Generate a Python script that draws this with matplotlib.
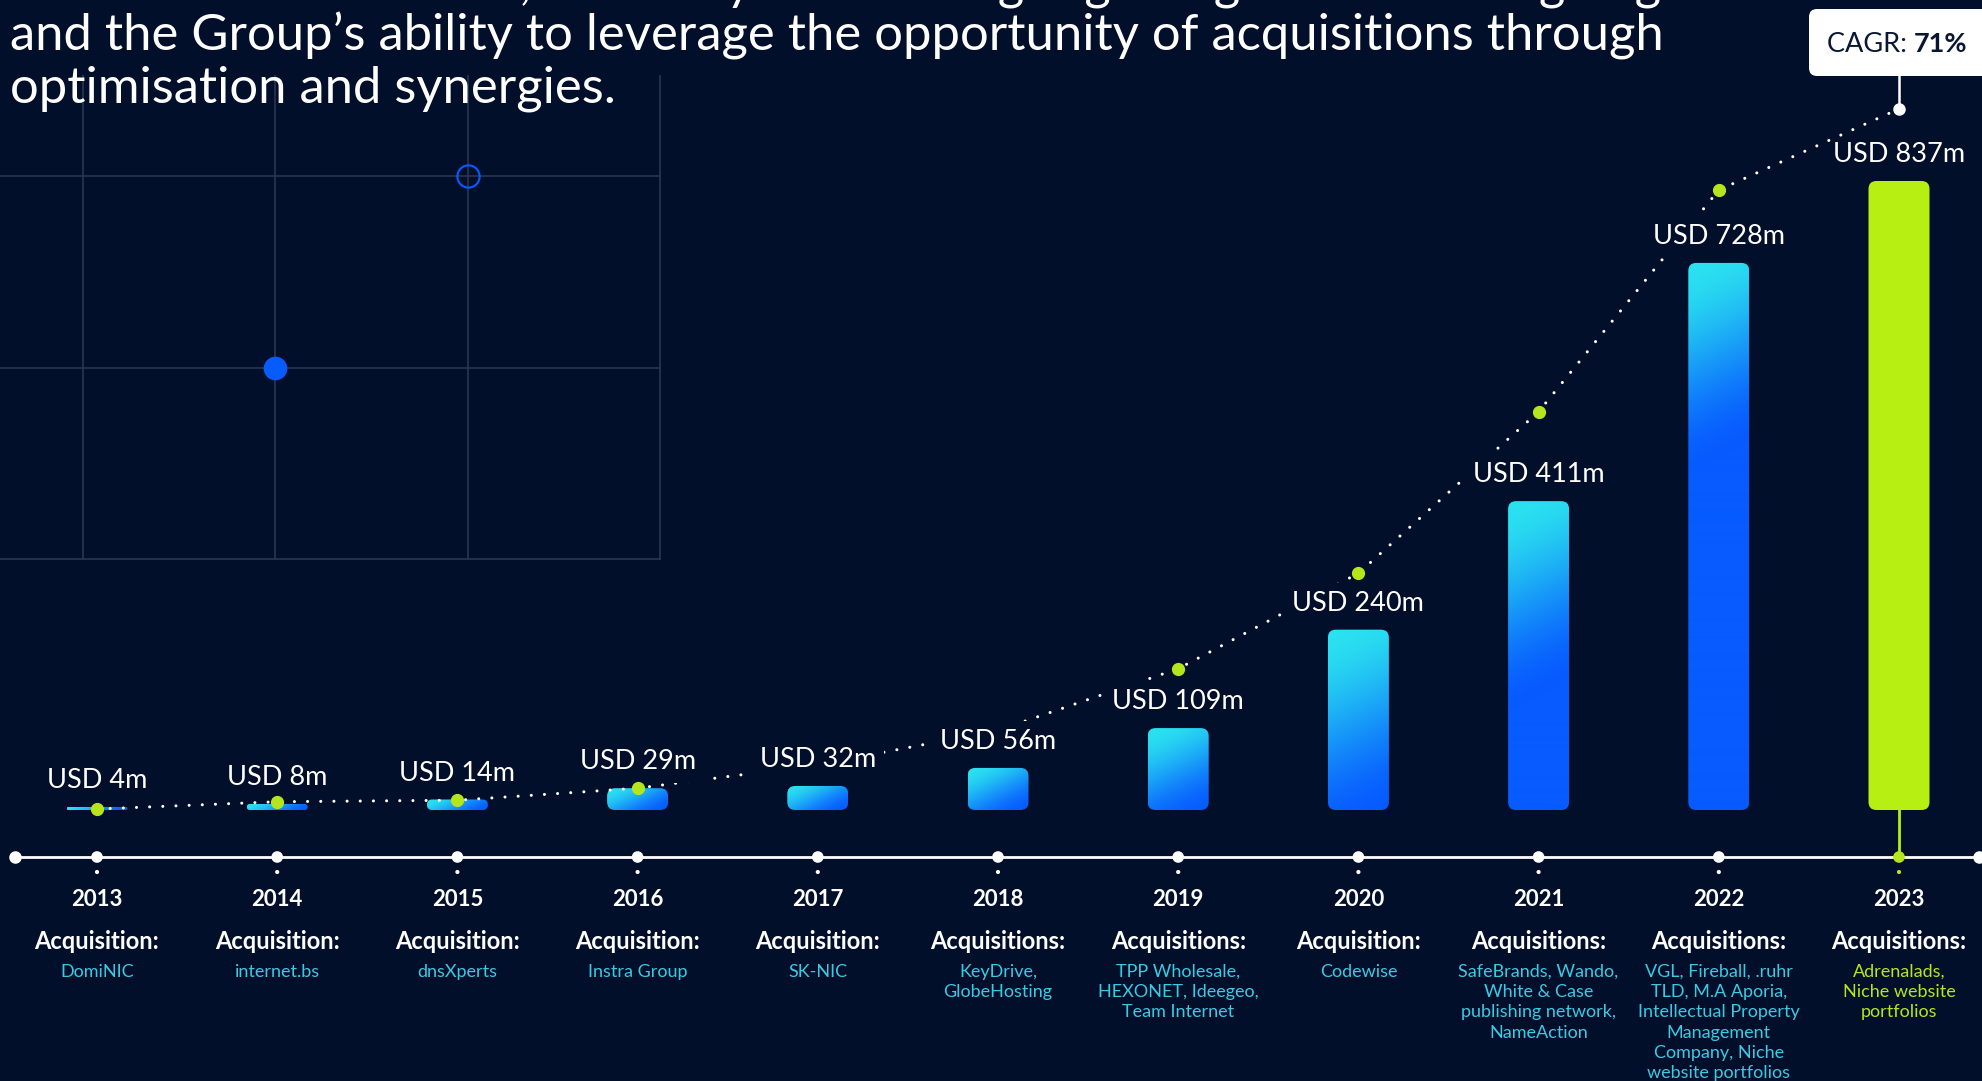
import numpy as np
import matplotlib.pyplot as plt
from matplotlib.patches import FancyBboxPatch
from matplotlib.colors import to_rgb

plt.rcParams['font.family'] = ['Lato', 'DejaVu Sans']

# ---- data ----
years = [2013, 2014, 2015, 2016, 2017, 2018, 2019, 2020, 2021, 2022, 2023]
revenue = [4, 8, 14, 29, 32, 56, 109, 240, 411, 728, 837]
value_labels = ['USD 4m', 'USD 8m', 'USD 14m', 'USD 29m', 'USD 32m', 'USD 56m',
                'USD 109m', 'USD 240m', 'USD 411m', 'USD 728m', 'USD 837m']
# dotted CAGR curve (USD m scale)
trend = [1.3, 11, 13, 29, 60, 106, 188, 315, 530, 825, 933]
trend_dot_years = [2013, 2014, 2015, 2016, 2019, 2020, 2021, 2022]
acq_headers = ['Acquisition:', 'Acquisition:', 'Acquisition:', 'Acquisition:',
               'Acquisition:', 'Acquisitions:', 'Acquisitions:', 'Acquisition:',
               'Acquisitions:', 'Acquisitions:', 'Acquisitions:']
acq_names = [
    'DomiNIC',
    'internet.bs',
    'dnsXperts',
    'Instra Group',
    'SK-NIC',
    'KeyDrive,\nGlobeHosting',
    'TPP Wholesale,\nHEXONET, Ideegeo,\nTeam Internet',
    'Codewise',
    'SafeBrands, Wando,\nWhite & Case\npublishing network,\nNameAction',
    'VGL, Fireball, .ruhr\nTLD, M.A Aporia,\nIntellectual Property\nManagement\nCompany, Niche\nwebsite portfolios',
    'Adrenalads,\nNiche website\nportfolios',
]
cagr_text = 'CAGR:'
cagr_value = '71%'
title_lines = [
    'Revenue has increased, driven by both strong organic growth and ongoing',
    'and the Group\u2019s ability to leverage the opportunity of acquisitions through',
    'optimisation and synergies.',
]
# faint chart left over in the top-left corner
ghost_x = [1, 2]
ghost_y = [1, 2]

# ---- style ----
BG = '#020f2a'
CYAN = np.array(to_rgb('#2be2f0'))
BLUE = np.array(to_rgb('#075bff'))
LIME = '#b8ef12'
DOT_GREEN = '#b5e61d'
NAME_CYAN = '#3cc9e4'
NAVY = '#0b1634'
GRID = '#2a3650'

W, H = 1982, 1081
X0, DX = 97, 180.2      # pixel column of first year, pixels per year
BASE, DY = 810, 0.7515  # pixel row of zero, pixels per USD m
ASP = DX / DY


def px(p):
    return years[0] + (p - X0) / DX


def py(p):
    return (BASE - p) / DY


fig = plt.figure(figsize=(W / 100, H / 100), dpi=100, facecolor=BG)

# ghost grid panel
gax = fig.add_axes([0, 1 - 560 / H, 661 / W, (560 - 75) / H])
gax.set_facecolor(BG)
gax.set_xlim(-0.43, 3.005)
gax.set_ylim(-0.005, 2.53)
gax.set_xticks([0, 1, 2, 3])
gax.set_yticks([0, 1, 2])
gax.tick_params(length=0, labelbottom=False, labelleft=False)
gax.grid(True, color=GRID, lw=1.2)
for s in gax.spines.values():
    s.set_visible(False)
gax.plot(ghost_x[0], ghost_y[0], 'o', ms=16, color='#075bff', mec='#075bff')
gax.plot(ghost_x[1], ghost_y[1], 'o', ms=16, mfc='none', mec='#075bff', mew=1.5)

ax = fig.add_axes([0, 0, 1, 1])
ax.set_axis_off()
ax.set_xlim(px(0), px(W))
ax.set_ylim(py(H), py(0))

# bars
bar_w = 61 / DX
bars = ax.bar(years, revenue, width=bar_w, color='none', edgecolor='none')
for yr, b in zip(years, bars):
    x, y0, w, h = b.get_x(), b.get_y(), b.get_width(), b.get_height()
    r = min(8 / DX, w / 2, h / ASP / 2)
    patch = FancyBboxPatch((x, y0), w, h, boxstyle=f'round,pad=0,rounding_size={r}',
                           mutation_aspect=ASP, linewidth=0, zorder=3)
    if yr == 2023:
        patch.set_facecolor(LIME)
        ax.add_patch(patch)
        continue
    patch.set_facecolor('none')
    ax.add_patch(patch)
    wp, hp = w * DX, h * DY
    nx, ny = max(int(wp), 2), max(int(hp), 2)
    u = np.linspace(0, wp, nx)[None, :]
    v = np.linspace(0, hp, ny)[:, None]
    L = 0.5 * wp + min(hp, 180)
    t = np.clip((0.5 * u + v) / L, 0, 1)
    t = t * t * (3 - 2 * t)
    rgb = (1 - t)[..., None] * CYAN + t[..., None] * BLUE
    im = ax.imshow(rgb, extent=(x, x + w, y0, y0 + h), origin='upper',
                   aspect='auto', interpolation='bilinear', zorder=3)
    im.set_clip_path(patch)

# value labels (a background box hides the dotted curve behind them)
for yr, val, lab in zip(years, revenue, value_labels):
    box_kw = None if yr == 2023 else dict(boxstyle='square,pad=0.3', fc=BG, ec='none')
    ax.annotate(lab, (yr, val), xytext=(0, 13.5), textcoords='offset points',
                ha='center', va='baseline', fontsize=19.5, color='white', zorder=5,
                bbox=box_kw)

# dotted CAGR curve
ax.plot(years, trend, color='white', lw=2.2, linestyle=(0, (0.01, 4.3)),
        dash_capstyle='round', zorder=4)
dots = [trend[years.index(y)] for y in trend_dot_years]
ax.plot(trend_dot_years, dots, 'o', ms=8.5, color=DOT_GREEN, zorder=6)
ax.plot(years[-1], trend[-1], 'o', ms=8, color='white', zorder=6)
ax.plot([years[-1], years[-1]], [trend[-1], py(76)], color='white', lw=1.8, zorder=5)

# CAGR box
box = FancyBboxPatch((px(1809), py(76)), px(2010) - px(1809), py(9) - py(76),
                     boxstyle=f'round,pad=0,rounding_size={8 / DX}',
                     mutation_aspect=ASP, fc='white', ec='none', zorder=7)
ax.add_patch(box)
t1 = ax.text(px(1827), py(52), cagr_text + ' ', ha='left', va='baseline',
             fontsize=19.5, color=NAVY, zorder=8)
fig.canvas.draw()
x_next = ax.transData.inverted().transform((t1.get_window_extent().x1, 0))[0]
ax.text(x_next, py(52), cagr_value, ha='left', va='baseline', fontsize=19.5,
        fontweight='bold', color=NAVY, zorder=8)

# timeline
tl = py(857)
ax.plot([years[-1], years[-1]], [0, tl], color=LIME, lw=2, zorder=2)
ax.plot([px(15), px(1979)], [tl, tl], color='white', lw=2, zorder=3)
ax.plot([px(15), px(1979)], [tl, tl], 'o', ms=8, color='white', zorder=4)
dot_cols = ['white'] * (len(years) - 1) + [DOT_GREEN]
ax.scatter(years, [tl] * len(years), s=70, c=dot_cols, zorder=4, linewidths=0)
ax.scatter(years, [py(872)] * len(years), s=9, c=dot_cols, zorder=4, linewidths=0)

# labels under the timeline
for i, yr in enumerate(years):
    ax.text(yr, py(906), str(yr), ha='center', va='baseline', fontsize=16,
            fontweight='bold', color='white')
    ax.text(yr, py(949), acq_headers[i], ha='center', va='baseline', fontsize=17,
            fontweight='bold', color='white')
    col = DOT_GREEN if yr == 2023 else NAME_CYAN
    for j, line in enumerate(acq_names[i].split('\n')):
        ax.text(yr, py(977 + 20.2 * j), line, ha='center', va='baseline',
                fontsize=13, color=col)

# heading
for k, line in enumerate(title_lines):
    fig.text(10 / W, 1 - (-2 + 52 * k) / H, line, ha='left', va='baseline',
             fontsize=36.5, color='white')

ax.set_xlim(px(0), px(W))
ax.set_ylim(py(H), py(0))

fig.savefig('out.png', dpi=100, facecolor=BG)
